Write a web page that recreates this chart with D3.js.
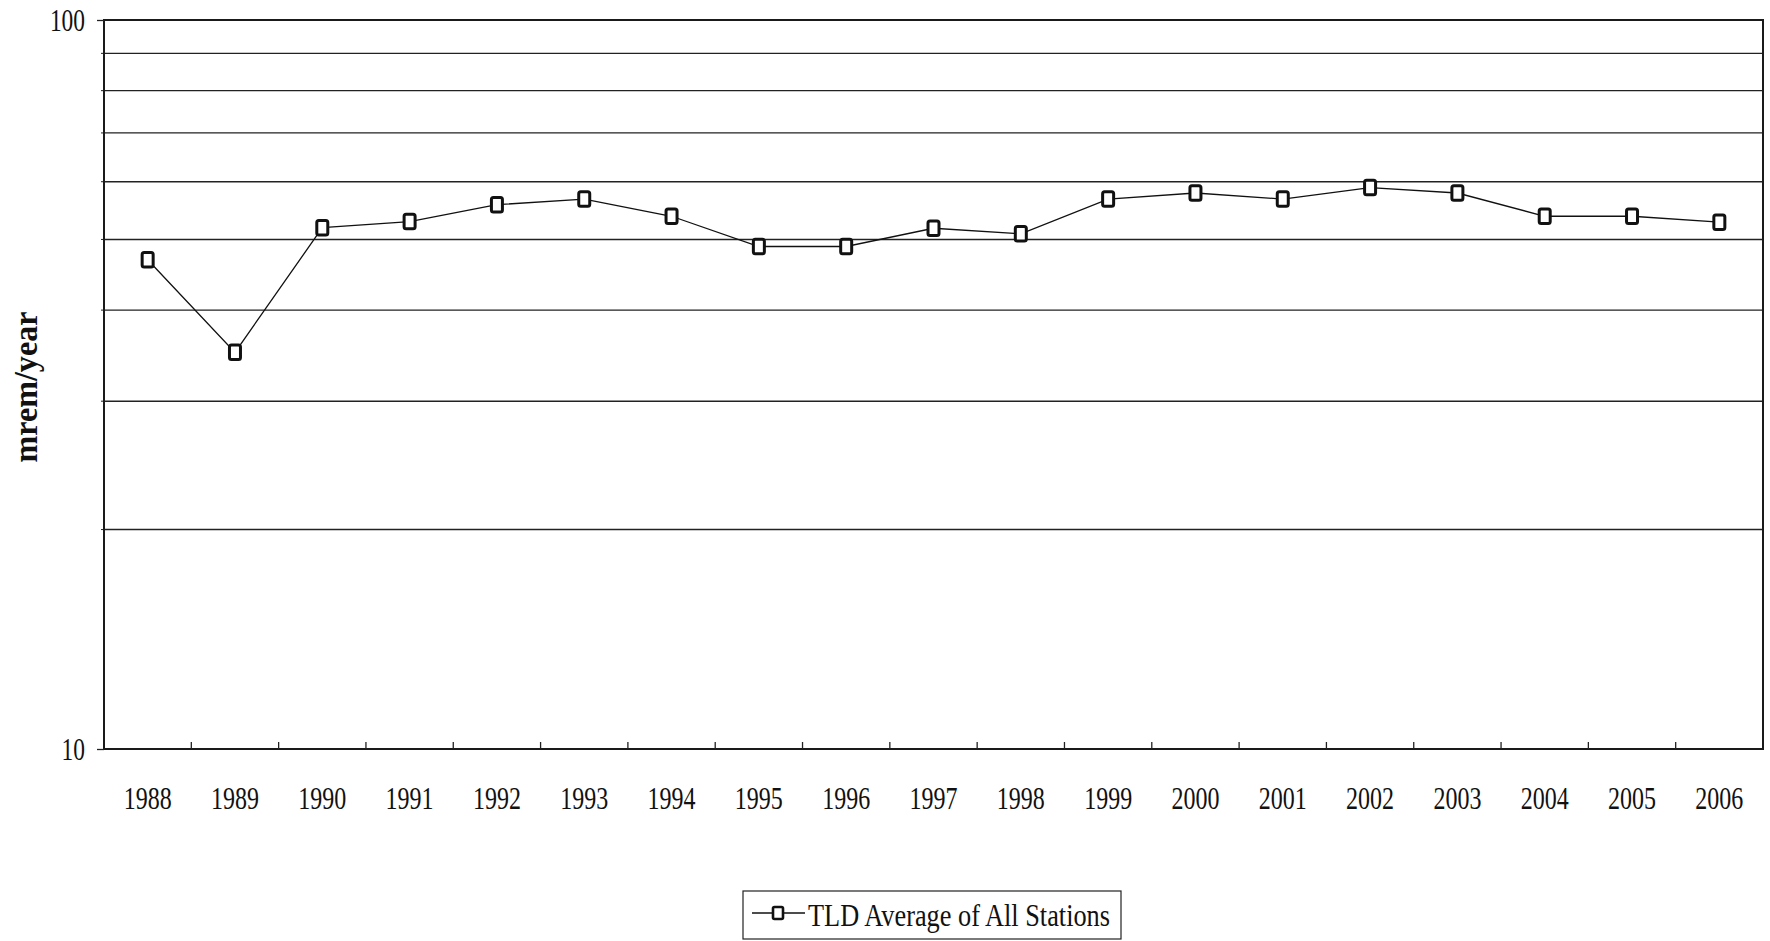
<!DOCTYPE html>
<html>
<head>
<meta charset="utf-8">
<script src="https://cdn.jsdelivr.net/npm/d3@7"></script>
<style>
  html, body { margin: 0; padding: 0; background: #fff; }
  svg { display: block; }
  text { font-family: "Liberation Serif", "Times New Roman", serif; fill: #111; }
</style>
</head>
<body>
<svg id="chart" width="1770" height="941"></svg>
<script>
// Annual average TLD dose, mrem/year
const years = ["1988","1989","1990","1991","1992","1993","1994","1995","1996","1997",
               "1998","1999","2000","2001","2002","2003","2004","2005","2006"];
const tldAverage = [46.9, 35.0, 51.9, 52.9, 55.8, 56.8, 53.8, 48.9, 48.9, 51.8,
                    50.9, 56.8, 57.9, 56.8, 58.9, 57.9, 53.8, 53.8, 52.8];
const yTickValues = [10, 100];
const gridValues = [20, 30, 40, 50, 60, 70, 80, 90];
const seriesName = "TLD Average of All Stations";
const yTitle = "mrem/year";

const svg = d3.select("#chart");
const plot = { left: 104, right: 1763, top: 20, bottom: 749 };

const x = d3.scaleBand().domain(years).range([plot.left, plot.right]);
const y = d3.scaleLog().domain([10, 100]).range([plot.bottom, plot.top]);

// horizontal gridlines
svg.append("g").selectAll("line").data(gridValues).join("line")
  .attr("x1", plot.left).attr("x2", plot.right)
  .attr("y1", d => y(d)).attr("y2", d => y(d))
  .attr("stroke", "#222").attr("stroke-width", 1.4);

// small outer ticks at each gridline
svg.append("g").selectAll("line").data(gridValues).join("line")
  .attr("x1", plot.left - 3).attr("x2", plot.left)
  .attr("y1", d => y(d)).attr("y2", d => y(d))
  .attr("stroke", "#222").attr("stroke-width", 1);

// plot frame
svg.append("rect")
  .attr("x", plot.left).attr("y", plot.top)
  .attr("width", plot.right - plot.left).attr("height", plot.bottom - plot.top)
  .attr("fill", "none").attr("stroke", "#1a1a1a").attr("stroke-width", 2);

// y axis (log)
const yAxis = svg.append("g")
  .attr("transform", `translate(${plot.left},0)`)
  .call(d3.axisLeft(y).tickValues(yTickValues).tickFormat(d3.format("d")).tickSize(7).tickPadding(12));
yAxis.select(".domain").remove();
yAxis.selectAll(".tick line").attr("stroke", "#222").attr("stroke-width", 1.3);
yAxis.selectAll(".tick text")
  .attr("font-size", 32)
  .attr("font-family", "Liberation Serif, serif")
  .attr("fill", "#111")
  .attr("textLength", d => String(d).length * 11.7)
  .attr("lengthAdjust", "spacingAndGlyphs");

// x category boundary ticks, pointing into the plot
const boundaries = years.slice(1).map(d => x(d));
svg.append("g").selectAll("line").data(boundaries).join("line")
  .attr("x1", d => d).attr("x2", d => d)
  .attr("y1", plot.bottom).attr("y2", plot.bottom - 7)
  .attr("stroke", "#222").attr("stroke-width", 1.3);

// x labels
svg.append("g").selectAll("text").data(years).join("text")
  .attr("x", d => x(d) + x.bandwidth() / 2)
  .attr("y", 809)
  .attr("text-anchor", "middle")
  .attr("font-size", 32)
  .attr("textLength", 48)
  .attr("lengthAdjust", "spacingAndGlyphs")
  .text(d => d);

// y title
svg.append("text")
  .attr("transform", "translate(37,387) rotate(-90)")
  .attr("text-anchor", "middle")
  .attr("font-size", 33)
  .attr("font-weight", "bold")
  .attr("textLength", 151)
  .attr("lengthAdjust", "spacingAndGlyphs")
  .text(yTitle);

// data line
const cx = d => x(d) + x.bandwidth() / 2;
const pts = years.map((yr, i) => [cx(yr), y(tldAverage[i])]);
svg.append("path")
  .attr("d", d3.line()(pts))
  .attr("fill", "none").attr("stroke", "#111").attr("stroke-width", 1.3);

// square markers
const mw = 11, mh = 14.5;
svg.append("g").selectAll("rect").data(years).join("rect")
  .attr("x", (d) => cx(d) - mw / 2)
  .attr("y", (d, i) => y(tldAverage[i]) - mh / 2)
  .attr("width", mw).attr("height", mh)
  .attr("rx", 2).attr("ry", 2)
  .attr("fill", "#fff").attr("stroke", "#111").attr("stroke-width", 3);

// legend
const lg = svg.append("g");
lg.append("rect")
  .attr("x", 743).attr("y", 891).attr("width", 378).attr("height", 48)
  .attr("fill", "#fff").attr("stroke", "#222").attr("stroke-width", 1.2);
lg.append("line")
  .attr("x1", 752).attr("x2", 805).attr("y1", 913).attr("y2", 913)
  .attr("stroke", "#111").attr("stroke-width", 1.3);
lg.append("rect")
  .attr("x", 778 - 5).attr("y", 913 - 6).attr("width", 10).attr("height", 12)
  .attr("rx", 1.5).attr("fill", "#fff").attr("stroke", "#111").attr("stroke-width", 2.6);
lg.append("text")
  .attr("x", 808).attr("y", 926)
  .attr("font-size", 32)
  .attr("textLength", 302)
  .attr("lengthAdjust", "spacingAndGlyphs")
  .text(seriesName);
</script>
</body>
</html>
